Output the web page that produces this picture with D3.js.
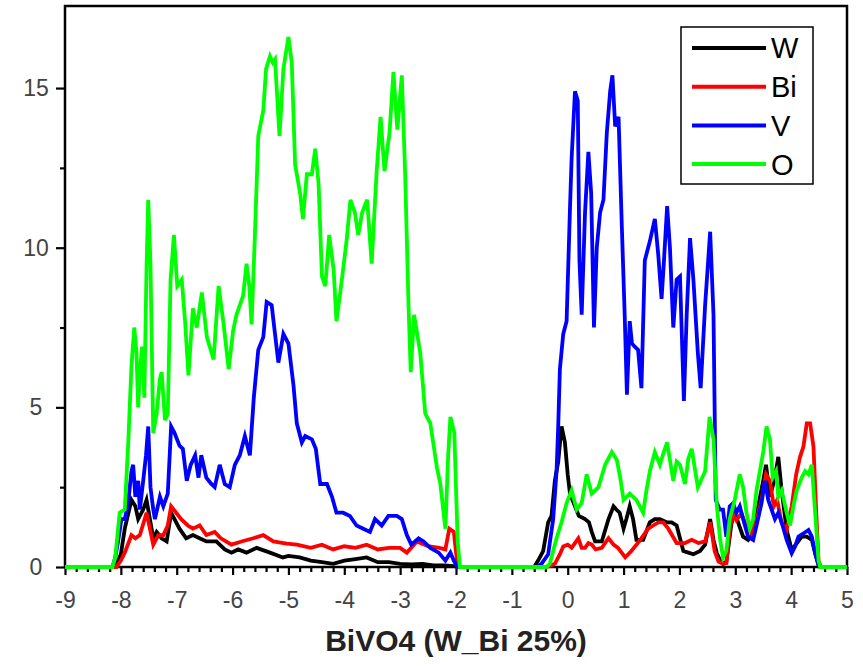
<!DOCTYPE html>
<meta charset="utf-8">
<script src="https://d3js.org/d3.v7.min.js"></script>
<style>
  body { margin: 0; background: #fff; }
  text { font-family: "Liberation Sans", Arial, sans-serif; }
</style>
<div id="my_dataviz"></div>
<script>
// series names + colours (legend order = draw order)
var elements = ["W", "Bi", "V", "O"];
var colors = ["#000000", "#ff0000", "#0000ff", "#00ff00"];

// [energy (eV), DOS]
var dosW = [[-9,0],[-8.1,0],[-8.0,0.4],[-7.93,1.2],[-7.81,2.1],[-7.74,1.9],[-7.69,1.5],[-7.6,1.8],[-7.54,2.1],[-7.48,1.5],[-7.42,0.9],[-7.36,1.1],[-7.27,0.9],[-7.18,0.8],[-7.1,1.7],[-7.04,1.5],[-6.95,1.2],[-6.83,0.9],[-6.71,1.0],[-6.59,0.9],[-6.47,0.8],[-6.29,0.8],[-6.14,0.55],[-6.02,0.45],[-5.9,0.55],[-5.75,0.45],[-5.57,0.6],[-5.33,0.45],[-5.1,0.3],[-5.0,0.35],[-4.8,0.3],[-4.6,0.2],[-4.4,0.15],[-4.2,0.1],[-4.0,0.2],[-3.8,0.25],[-3.6,0.3],[-3.4,0.15],[-3.2,0.15],[-3.0,0.1],[-2.8,0.08],[-2.6,0.1],[-2.4,0.05],[-2.2,0.05],[-2.0,0.02],[-1.97,0],
  [-0.6,0],[-0.53,0.2],[-0.44,0.5],[-0.35,1.4],[-0.29,1.6],[-0.23,2.7],[-0.17,3.3],[-0.11,4.4],[-0.05,3.9],[0.0,2.9],[0.04,2.3],[0.13,1.9],[0.2,1.6],[0.31,1.5],[0.38,1.4],[0.43,1.1],[0.49,0.8],[0.61,0.8],[0.73,1.5],[0.82,1.9],[0.87,1.8],[0.93,1.7],[1.0,1.2],[1.05,1.5],[1.11,1.9],[1.17,1.5],[1.23,0.85],[1.35,0.85],[1.47,1.4],[1.56,1.5],[1.65,1.5],[1.77,1.4],[1.86,1.4],[1.95,1.3],[2.01,0.9],[2.07,0.5],[2.16,0.45],[2.25,0.4],[2.37,0.5],[2.46,0.7],[2.55,1.5],[2.61,0.85],[2.67,0.43],[2.73,0.2],[2.78,0.1],[2.84,0.15],[2.93,1.35],[2.99,1.7],[3.08,1.25],[3.14,0.95],[3.23,0.85],[3.32,1.05],[3.41,1.9],[3.5,2.7],[3.55,3.2],[3.62,2.2],[3.71,2.8],[3.77,3.45],[3.83,2.4],[3.92,1.16],[4.01,0.53],[4.1,0.74],[4.19,0.95],[4.28,0.95],[4.37,0.85],[4.43,0.43],[4.49,0.06],[4.52,0],[5,0]];

var dosBi = [[-9,0],[-8.08,0],[-8.0,0.2],[-7.93,0.45],[-7.81,1.0],[-7.74,0.9],[-7.66,1.0],[-7.54,1.7],[-7.48,1.2],[-7.42,0.7],[-7.33,1.0],[-7.24,1.0],[-7.16,1.3],[-7.1,1.9],[-7.01,1.7],[-6.92,1.5],[-6.8,1.3],[-6.71,1.2],[-6.59,1.3],[-6.47,1.0],[-6.32,1.1],[-6.21,0.9],[-6.02,0.7],[-5.84,0.8],[-5.63,0.9],[-5.45,1.0],[-5.27,0.8],[-5.03,0.73],[-4.85,0.7],[-4.6,0.6],[-4.4,0.7],[-4.2,0.55],[-4.0,0.65],[-3.8,0.6],[-3.6,0.7],[-3.4,0.55],[-3.2,0.6],[-3.0,0.6],[-2.88,0.45],[-2.7,0.8],[-2.5,0.65],[-2.3,0.6],[-2.19,0.55],[-2.12,1.2],[-2.04,1.1],[-1.97,0],
  [-0.38,0],[-0.23,0.1],[-0.14,0.4],[-0.08,0.64],[0.0,0.7],[0.07,0.6],[0.13,0.75],[0.19,0.9],[0.25,0.6],[0.31,0.6],[0.37,0.75],[0.43,0.7],[0.5,0.55],[0.61,0.6],[0.73,0.9],[0.82,0.7],[0.9,0.6],[1.03,0.3],[1.14,0.5],[1.3,0.85],[1.44,1.2],[1.53,1.3],[1.62,1.4],[1.71,1.4],[1.8,1.2],[1.95,0.75],[2.1,0.75],[2.22,0.85],[2.34,0.75],[2.46,0.8],[2.55,1.4],[2.63,0.5],[2.7,0.17],[2.78,0.1],[2.84,0.12],[2.9,1.16],[2.96,1.68],[3.02,1.47],[3.11,1.68],[3.2,1.26],[3.29,1.05],[3.38,1.47],[3.47,2.1],[3.55,2.9],[3.62,2.7],[3.69,1.9],[3.75,2.1],[3.83,1.37],[3.92,1.16],[4.01,1.9],[4.09,2.9],[4.16,3.45],[4.22,3.77],[4.28,4.5],[4.34,4.5],[4.4,3.77],[4.45,1.68],[4.49,0.2],[4.53,0],[5,0]];

var dosV = [[-9,0],[-8.15,0],[-8.1,0.3],[-8.05,0.8],[-7.99,1.5],[-7.93,1.5],[-7.87,2.0],[-7.81,3.0],[-7.78,3.2],[-7.74,2.2],[-7.69,2.7],[-7.66,1.8],[-7.6,2.7],[-7.55,3.5],[-7.51,4.4],[-7.47,2.5],[-7.42,1.8],[-7.39,1.5],[-7.3,2.2],[-7.24,1.9],[-7.16,2.3],[-7.1,4.4],[-7.04,4.2],[-6.95,3.8],[-6.89,3.7],[-6.82,2.7],[-6.75,3.2],[-6.67,3.5],[-6.61,2.8],[-6.56,3.5],[-6.47,2.8],[-6.38,2.6],[-6.32,2.5],[-6.23,3.2],[-6.14,2.6],[-6.05,2.5],[-5.96,3.2],[-5.87,3.5],[-5.78,4.1],[-5.69,3.5],[-5.62,5.3],[-5.54,6.8],[-5.45,7.2],[-5.39,8.3],[-5.3,8.2],[-5.24,7.3],[-5.18,6.4],[-5.09,7.3],[-5.0,7.0],[-4.91,5.7],[-4.85,4.5],[-4.76,3.9],[-4.7,4.1],[-4.58,4.0],[-4.51,3.7],[-4.43,2.6],[-4.31,2.6],[-4.22,2.2],[-4.14,1.7],[-4.02,1.7],[-3.9,1.6],[-3.78,1.3],[-3.66,1.2],[-3.54,1.1],[-3.45,1.5],[-3.33,1.3],[-3.21,1.6],[-3.06,1.6],[-2.97,1.5],[-2.88,1.0],[-2.8,0.7],[-2.67,0.9],[-2.58,0.8],[-2.46,0.6],[-2.31,0.45],[-2.19,0.2],[-2.1,0.45],[-2.04,0.2],[-1.97,0],
  [-0.55,0],[-0.47,0.1],[-0.35,0.4],[-0.26,1.5],[-0.2,3.0],[-0.17,4.4],[-0.14,6.2],[-0.08,7.3],[-0.02,7.7],[0.04,11.2],[0.07,12.8],[0.13,14.9],[0.18,14.6],[0.21,9.6],[0.25,7.9],[0.31,11.1],[0.37,13.0],[0.42,11.7],[0.47,7.5],[0.52,10.0],[0.58,11.1],[0.64,11.5],[0.7,13.6],[0.76,14.9],[0.8,15.4],[0.85,13.8],[0.91,14.1],[0.97,10.6],[1.02,7.9],[1.06,5.4],[1.11,7.7],[1.15,7.0],[1.2,6.9],[1.26,6.8],[1.32,5.6],[1.38,9.6],[1.47,10.2],[1.56,10.9],[1.62,9.8],[1.68,8.4],[1.72,9.5],[1.78,11.3],[1.83,10.0],[1.89,7.5],[1.95,9.0],[2.01,9.1],[2.08,5.2],[2.13,7.9],[2.19,10.3],[2.25,9.0],[2.33,6.7],[2.38,5.6],[2.46,8.2],[2.55,10.5],[2.61,7.9],[2.65,2.1],[2.72,1.8],[2.78,1.8],[2.84,0.95],[2.9,1.9],[2.96,2.0],[3.02,1.7],[3.08,1.9],[3.14,1.5],[3.23,0.95],[3.32,0.85],[3.38,1.3],[3.47,2.0],[3.53,2.7],[3.59,2.1],[3.65,1.8],[3.71,1.5],[3.77,1.7],[3.83,1.4],[3.92,0.85],[4.01,0.43],[4.07,0.64],[4.13,0.95],[4.22,1.05],[4.31,1.16],[4.37,0.95],[4.43,0.43],[4.49,0.06],[4.52,0],[5,0]];

var dosO = [[-9,0],[-8.15,0],[-8.1,0.3],[-8.05,1.2],[-8.02,1.7],[-7.93,1.8],[-7.87,3.8],[-7.81,6.3],[-7.76,7.5],[-7.72,6.7],[-7.69,5.0],[-7.66,6.1],[-7.62,6.9],[-7.58,5.3],[-7.54,9.4],[-7.51,11.5],[-7.47,9.5],[-7.42,4.2],[-7.36,4.8],[-7.3,5.9],[-7.27,6.1],[-7.21,4.6],[-7.16,4.8],[-7.11,9.0],[-7.05,10.4],[-6.99,8.8],[-6.91,9.0],[-6.85,7.7],[-6.79,6.0],[-6.71,8.1],[-6.64,7.5],[-6.55,8.6],[-6.46,7.2],[-6.34,6.5],[-6.25,8.8],[-6.16,7.6],[-6.07,6.2],[-5.99,7.4],[-5.93,7.9],[-5.87,8.2],[-5.81,8.5],[-5.75,9.5],[-5.7,8.8],[-5.66,7.6],[-5.6,10.4],[-5.54,13.5],[-5.45,14.3],[-5.4,15.6],[-5.33,16.0],[-5.28,15.8],[-5.24,15.9],[-5.16,13.5],[-5.09,15.6],[-5.0,16.6],[-4.94,15.8],[-4.88,12.6],[-4.79,11.7],[-4.74,10.9],[-4.67,12.3],[-4.58,12.3],[-4.52,13.1],[-4.46,12.0],[-4.4,9.1],[-4.34,8.8],[-4.27,10.4],[-4.19,9.3],[-4.14,7.7],[-4.05,8.9],[-3.96,10.2],[-3.89,11.5],[-3.81,11.1],[-3.75,10.4],[-3.68,11.1],[-3.59,11.5],[-3.51,9.5],[-3.42,12.4],[-3.35,14.1],[-3.28,12.4],[-3.19,13.6],[-3.12,15.5],[-3.05,13.7],[-2.97,15.4],[-2.91,12.3],[-2.85,8.2],[-2.81,6.1],[-2.75,7.9],[-2.64,6.7],[-2.55,4.8],[-2.46,4.5],[-2.34,3.1],[-2.28,2.6],[-2.19,1.2],[-2.14,3.5],[-2.1,4.7],[-2.03,4.2],[-1.97,0.8],[-1.93,0],
  [-0.38,0],[-0.32,0.1],[-0.2,0.9],[-0.11,1.4],[-0.02,2.0],[0.07,2.4],[0.16,1.8],[0.25,2.0],[0.34,2.9],[0.43,2.3],[0.55,2.5],[0.67,3.2],[0.79,3.6],[0.88,3.35],[0.94,2.8],[1.0,2.1],[1.11,2.3],[1.23,2.1],[1.35,1.7],[1.41,2.4],[1.47,3.0],[1.56,3.6],[1.65,3.2],[1.72,3.6],[1.78,3.9],[1.89,2.7],[1.95,3.3],[2.01,3.2],[2.1,2.6],[2.16,3.4],[2.22,3.7],[2.33,2.5],[2.46,3.0],[2.54,4.7],[2.61,4.0],[2.67,1.9],[2.73,0.85],[2.78,0.3],[2.84,0.5],[2.9,1.5],[2.99,2.1],[3.08,2.9],[3.14,2.5],[3.2,1.7],[3.26,1.2],[3.32,1.5],[3.38,2.4],[3.44,3.0],[3.5,3.6],[3.56,4.4],[3.62,4.0],[3.67,2.8],[3.73,3.0],[3.77,2.2],[3.83,2.4],[3.92,1.7],[3.98,1.3],[4.04,1.9],[4.1,2.4],[4.19,2.8],[4.25,3.0],[4.31,2.9],[4.37,3.2],[4.43,1.7],[4.49,0.2],[4.52,0],[5,0]];

var seriesData = [dosW, dosBi, dosV, dosO];

// axis ticks
var xMajor = d3.range(-9, 5.01, 1);
var xMinor = d3.range(-9, 5.01, 0.2).filter(function(v){ return Math.abs(v - Math.round(v)) > 0.01; });
var yMajor = [0, 5, 10, 15];
var yMinor = [2.5, 7.5, 12.5];
var xTitle = "BiVO4 (W_Bi 25%)";

var width = 863, height = 666;
var mLeft = 65, mRight = 847, mTop = 6, mBottom = 567;

var svg = d3.select("#my_dataviz")
  .append("svg")
    .attr("width", width)
    .attr("height", height);

var x = d3.scaleLinear().domain([-9, 5]).range([mLeft, mRight]);
var y = d3.scaleLinear().domain([0, 17.57]).range([mBottom, mTop]);

// frame
svg.append("rect")
  .attr("x", mLeft).attr("y", mTop)
  .attr("width", mRight - mLeft).attr("height", mBottom - mTop)
  .attr("fill", "none").attr("stroke", "#000").attr("stroke-width", 2.5);

var plain = function(d){ return String(d); };   // keep ascii hyphen for minus

// minor ticks
var xMin = svg.append("g").attr("transform", "translate(0," + mBottom + ")")
  .call(d3.axisBottom(x).tickValues(xMinor).tickSize(5).tickFormat("").tickSizeOuter(0));
var yMin = svg.append("g").attr("transform", "translate(" + mLeft + ",0)")
  .call(d3.axisLeft(y).tickValues(yMinor).tickSize(5).tickFormat("").tickSizeOuter(0));

// major ticks + labels
var xAx = svg.append("g").attr("transform", "translate(0," + mBottom + ")")
  .call(d3.axisBottom(x).tickValues(xMajor).tickFormat(plain).tickSize(8).tickPadding(17).tickSizeOuter(0));
var yAx = svg.append("g").attr("transform", "translate(" + mLeft + ",0)")
  .call(d3.axisLeft(y).tickValues(yMajor).tickFormat(plain).tickSize(9).tickPadding(20).tickSizeOuter(0));

[xMin, yMin, xAx, yAx].forEach(function(g) {
  g.select(".domain").remove();
  g.selectAll("line").attr("stroke", "#000").attr("stroke-width", 2.2);
  g.selectAll("text").attr("font-size", 23).attr("fill", "#444")
    .style("font-family", "'Liberation Sans', Arial, sans-serif");
});
yAx.selectAll("text").attr("text-anchor", "middle");

// curves
var line = d3.line()
  .x(function(d){ return x(d[0]); })
  .y(function(d){ return y(d[1]); });

seriesData.forEach(function(s, i) {
  svg.append("path")
    .datum(s)
    .attr("d", line)
    .attr("fill", "none")
    .attr("stroke", colors[i])
    .attr("stroke-width", 3.8)
    .attr("stroke-linejoin", "miter");
});

// x title
svg.append("text")
  .attr("x", 456).attr("y", 651)
  .attr("text-anchor", "middle")
  .attr("font-size", 30).attr("font-weight", "bold").attr("fill", "#222")
  .text(xTitle);

// legend
var lg = svg.append("g");
lg.append("rect")
  .attr("x", 681).attr("y", 27).attr("width", 132).attr("height", 157)
  .attr("fill", "#fff").attr("stroke", "#000").attr("stroke-width", 1.5);
elements.forEach(function(name, i) {
  var ly = 48 + i * 38.7;
  lg.append("line")
    .attr("x1", 692).attr("x2", 766).attr("y1", ly).attr("y2", ly)
    .attr("stroke", colors[i]).attr("stroke-width", 4);
  lg.append("text")
    .attr("x", 771).attr("y", ly).attr("dy", "0.36em")
    .attr("font-size", 29).attr("fill", "#000")
    .text(name);
});
</script>
